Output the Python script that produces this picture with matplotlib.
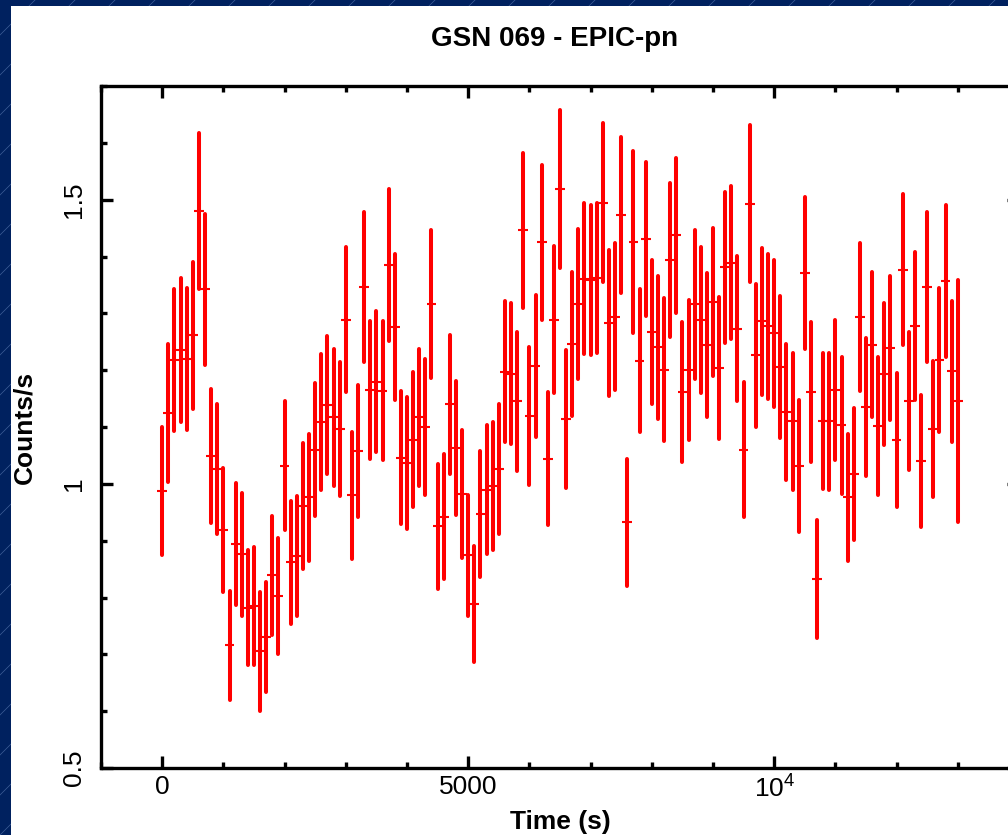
import numpy as np
import matplotlib.pyplot as plt
from matplotlib.patches import Rectangle
from matplotlib.lines import Line2D
from matplotlib.ticker import FixedLocator, MultipleLocator

plt.rcParams['font.family'] = ['Liberation Sans', 'DejaVu Sans']
plt.rcParams['mathtext.fontset'] = 'custom'
plt.rcParams['mathtext.rm'] = 'Liberation Sans'

# EPIC-pn light curve, 100 s bins (count rate and 1-sigma error)
bin_size = 100
rate = [
    0.987, 1.125, 1.218, 1.236, 1.219, 1.261, 1.480, 1.342, 1.049, 1.026,
    0.918, 0.716, 0.894, 0.876, 0.782, 0.785, 0.705, 0.731, 0.839, 0.802,
    1.032, 0.862, 0.873, 0.961, 0.976, 1.060, 1.109, 1.139, 1.117, 1.096,
    1.289, 0.980, 1.058, 1.347, 1.165, 1.180, 1.164, 1.385, 1.276, 1.046,
    1.036, 1.078, 1.117, 1.100, 1.316, 0.925, 0.942, 1.140, 1.063, 0.982,
    0.874, 0.788, 0.947, 0.990, 0.996, 1.026, 1.197, 1.194, 1.145, 1.446,
    1.119, 1.208, 1.425, 1.044, 1.289, 1.519, 1.114, 1.246, 1.316, 1.361,
    1.358, 1.362, 1.495, 1.283, 1.294, 1.473, 0.932, 1.425, 1.217, 1.431,
    1.267, 1.240, 1.201, 1.394, 1.437, 1.161, 1.201, 1.316, 1.288, 1.244,
    1.320, 1.204, 1.381, 1.389, 1.273, 1.060, 1.493, 1.226, 1.286, 1.277,
    1.265, 1.206, 1.126, 1.110, 1.032, 1.371, 1.162, 0.833, 1.111, 1.110,
    1.165, 1.103, 0.976, 1.018, 1.294, 1.135, 1.245, 1.102, 1.193, 1.239,
    1.077, 1.377, 1.146, 1.278, 1.040, 1.346, 1.096, 1.218, 1.357, 1.198,
    1.146,
]
rate_err = [
    0.113, 0.121, 0.125, 0.127, 0.125, 0.129, 0.138, 0.133, 0.118, 0.115,
    0.109, 0.096, 0.107, 0.108, 0.101, 0.104, 0.105, 0.097, 0.105, 0.102,
    0.114, 0.108, 0.106, 0.111, 0.112, 0.117, 0.120, 0.121, 0.120, 0.118,
    0.128, 0.112, 0.116, 0.132, 0.122, 0.124, 0.122, 0.133, 0.128, 0.117,
    0.116, 0.118, 0.120, 0.120, 0.130, 0.110, 0.110, 0.122, 0.118, 0.113,
    0.107, 0.102, 0.111, 0.113, 0.113, 0.115, 0.124, 0.124, 0.123, 0.136,
    0.121, 0.125, 0.136, 0.117, 0.129, 0.139, 0.121, 0.127, 0.132, 0.133,
    0.132, 0.132, 0.140, 0.129, 0.129, 0.137, 0.112, 0.160, 0.126, 0.136,
    0.127, 0.126, 0.126, 0.135, 0.137, 0.123, 0.123, 0.131, 0.129, 0.127,
    0.131, 0.125, 0.133, 0.135, 0.128, 0.119, 0.138, 0.126, 0.129, 0.128,
    0.129, 0.125, 0.120, 0.121, 0.116, 0.133, 0.123, 0.104, 0.120, 0.121,
    0.123, 0.121, 0.112, 0.116, 0.130, 0.122, 0.128, 0.121, 0.125, 0.126,
    0.118, 0.133, 0.122, 0.130, 0.116, 0.132, 0.120, 0.127, 0.133, 0.124,
    0.213,
]
time = np.arange(len(rate)) * bin_size

x_ticks = [0, 5000, 10000]
x_tick_labels = ['0', '5000', r'$\mathregular{10^4}$']
y_ticks = [0.5, 1, 1.5]
y_tick_labels = ['0.5', '1', '1.5']

W, H = 1008, 835
fig = plt.figure(figsize=(W / 100, H / 100), dpi=100)
fig.patch.set_facecolor('#00215f')

# slide background with faint diagonal hairlines, white sheet on top
for k in range(-25, 30):
    x0 = k * 0.4
    fig.add_artist(Line2D([x0, x0 + 9], [0, 9], transform=fig.dpi_scale_trans,
                          color='#5a78b0', lw=0.5, alpha=0.7, zorder=-2))
fig.add_artist(Rectangle((11 / W, 0), 1, 1 - 6 / H, transform=fig.transFigure,
                         facecolor='white', edgecolor='none', zorder=-1))

# axes run off the right edge of the picture, like the cropped slide
ax = fig.add_axes([101 / W, 1 - 768 / H, 918 / W, 682 / H])
ax.set_xlim(-1000, 14000)
ax.set_ylim(0.5, 1.7)

eb = ax.errorbar(time, rate, yerr=rate_err, fmt='none', ecolor='#ff0000',
                 elinewidth=2.9, capsize=0)
eb[2][0].set_capstyle('round')
ax.errorbar(time, rate, xerr=bin_size * 0.8, fmt='none', ecolor='#ff0000',
            elinewidth=1.5, capsize=0)

for s in ax.spines.values():
    s.set_linewidth(2.4)

ax.xaxis.set_major_locator(FixedLocator(x_ticks))
ax.set_xticklabels(x_tick_labels)
ax.xaxis.set_minor_locator(MultipleLocator(1000))
ax.yaxis.set_major_locator(FixedLocator(y_ticks))
ax.set_yticklabels(y_tick_labels)
ax.yaxis.set_minor_locator(MultipleLocator(0.1))

ax.tick_params(which='both', direction='in', top=True, right=True, width=2.4,
               labelsize=19)
ax.tick_params(which='major', length=8.6)
ax.tick_params(which='minor', length=4.3)
ax.tick_params(axis='x', pad=5)
ax.tick_params(axis='y', pad=11, labelrotation=90)
for lab in ax.get_yticklabels():
    lab.set_va('center')

ax.set_xlabel('Time (s)', fontsize=19, fontweight='bold', labelpad=6)
ax.set_ylabel('Counts/s', fontsize=19, fontweight='bold', labelpad=18)
ax.set_title('GSN 069 - EPIC-pn', fontsize=20, fontweight='bold', pad=29, x=0.494)

fig.savefig('out.png', dpi=100, facecolor=fig.get_facecolor())
